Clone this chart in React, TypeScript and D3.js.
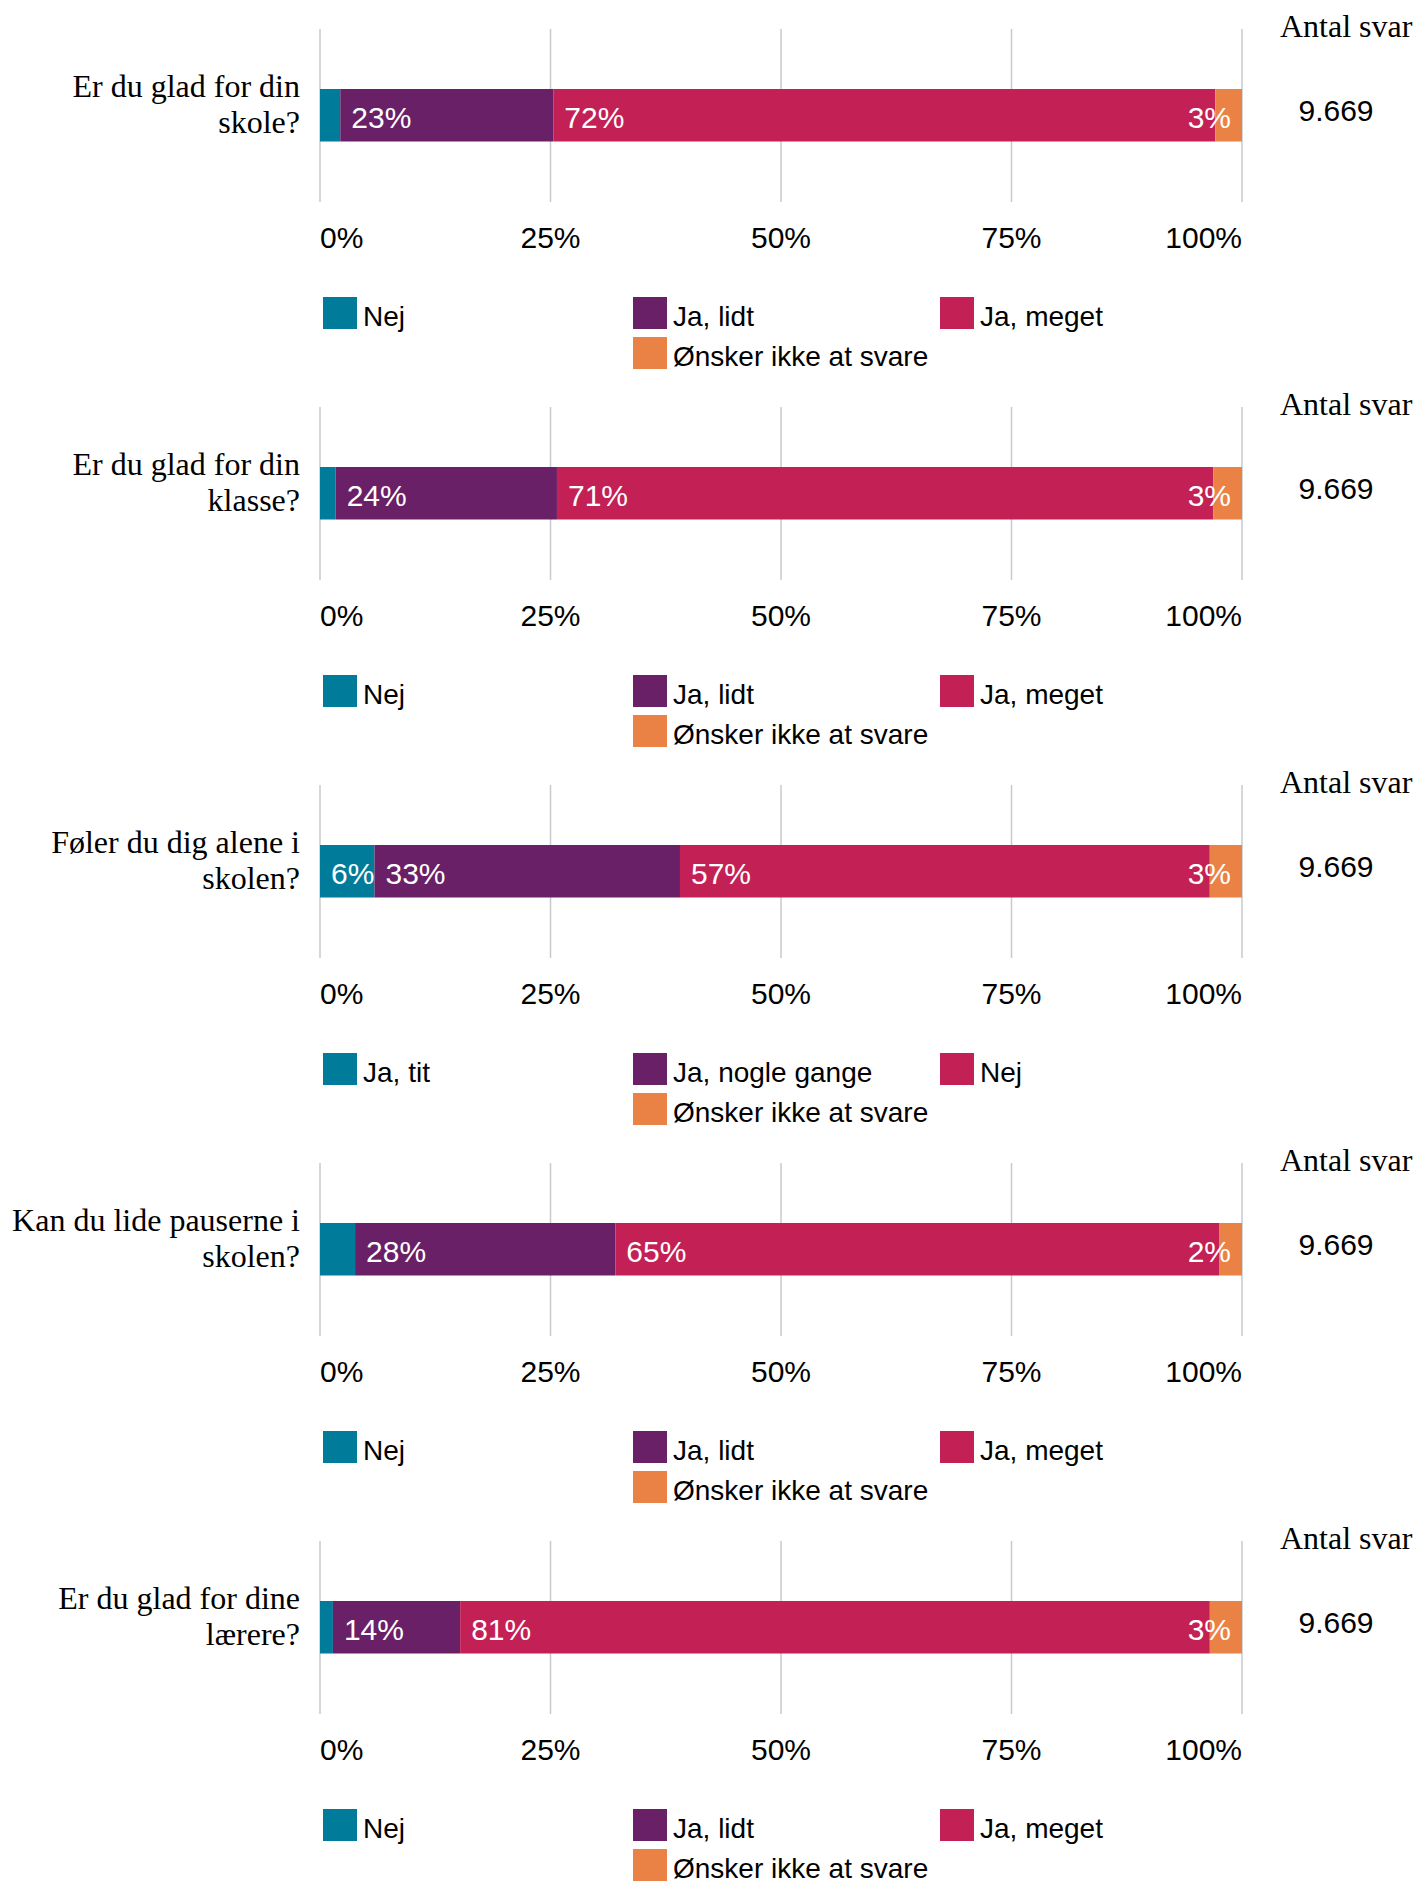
import React from "react";
import * as d3 from "d3";

const questionLines: string[][] = [
  ["Er du glad for din", "skole?"],
  ["Er du glad for din", "klasse?"],
  ["Føler du dig alene i", "skolen?"],
  ["Kan du lide pauserne i", "skolen?"],
  ["Er du glad for dine", "lærere?"],
];

const catsA = ["Nej", "Ja, lidt", "Ja, meget", "Ønsker ikke at svare"];
const catsB = ["Ja, tit", "Ja, nogle gange", "Nej", "Ønsker ikke at svare"];
const questionCats = [catsA, catsA, catsB, catsA, catsA];

const values1 = [2.2, 23.1, 71.8, 2.9];
const values2 = [1.7, 24.0, 71.2, 3.1];
const values3 = [5.9, 33.1, 57.4, 3.49];
const values4 = [3.8, 28.2, 65.4, 2.49];
const values5 = [1.4, 13.8, 81.3, 3.49];
const questionValues = [values1, values2, values3, values4, values5];

const answerCounts = ["9.669", "9.669", "9.669", "9.669", "9.669"];
const tickValues = [0, 25, 50, 75, 100];
const tickLabels = ["0%", "25%", "50%", "75%", "100%"];

const colors = ["#017b9a", "#692066", "#c32056", "#ea8245"];

const W = 1415;
const H = 1881;
const panelH = 378;
const SANS = "'Liberation Sans', Arial, Helvetica, sans-serif";
const SERIF = "'Liberation Serif', 'Times New Roman', Times, serif";

function textWidth(s: string, size: number) {
  let w = 0;
  for (const c of s) w += c === "%" ? 0.889 : 0.556;
  return w * size;
}

export default function App() {
  const x = d3.scaleLinear().domain([0, 100]).range([320, 1242]);
  const barTop = 89;
  const barH = 52.5;
  const pad = 11;
  const labelSize = 30;

  return (
    <svg
      width={W}
      height={H}
      viewBox={`0 0 ${W} ${H}`}
      style={{ position: "absolute", left: 0, top: 0, background: "#fff" }}
    >
      <rect x={0} y={0} width={W} height={H} fill="#fff" />
      {questionValues.map((vals, qi) => {
        const total = d3.sum(vals);
        const norm = vals.map((v) => (v / total) * 100);
        const cum = d3.cumsum(norm);
        const starts = norm.map((v, i) => cum[i] - v);
        const barEnd = x(100);
        const cats = questionCats[qi];
        return (
          <g key={qi} transform={`translate(0,${qi * panelH})`}>
            {tickValues.map((t) => (
              <line
                key={t}
                x1={x(t)}
                x2={x(t)}
                y1={29}
                y2={202}
                stroke="#c7cacd"
                strokeWidth={1.5}
              />
            ))}
            {questionLines[qi].map((ln, li) => (
              <text
                key={li}
                x={300}
                y={97 + li * 36}
                textAnchor="end"
                fontFamily={SERIF}
                fontSize={32}
                fill="#000"
              >
                {ln}
              </text>
            ))}
            {norm.map((v, i) => (
              <rect
                key={i}
                x={x(starts[i])}
                y={barTop}
                width={x(starts[i] + v) - x(starts[i])}
                height={barH}
                fill={colors[i]}
              />
            ))}
            {vals.map((v, i) => {
              const label = `${Math.round(v)}%`;
              const tw = textWidth(label, labelSize);
              const segStart = x(starts[i]);
              const segEnd = x(starts[i] + norm[i]);
              const isLast = i === vals.length - 1;
              if (!isLast && segStart + pad + tw > segEnd) return null;
              const lx = isLast ? barEnd - pad - tw : segStart + pad;
              return (
                <text
                  key={i}
                  x={lx}
                  y={barTop + 38.5}
                  fontFamily={SANS}
                  fontSize={labelSize}
                  fill="#fff"
                >
                  {label}
                </text>
              );
            })}
            <text x={1280} y={37} fontFamily={SERIF} fontSize={32} fill="#000">
              Antal svar
            </text>
            <text
              x={1336}
              y={121}
              textAnchor="middle"
              fontFamily={SANS}
              fontSize={30}
              fill="#000"
            >
              {answerCounts[qi]}
            </text>
            {tickValues.map((t, i) => (
              <text
                key={t}
                x={x(t)}
                y={248}
                textAnchor={i === 0 ? "start" : i === tickValues.length - 1 ? "end" : "middle"}
                fontFamily={SANS}
                fontSize={30}
                fill="#000"
              >
                {tickLabels[i]}
              </text>
            ))}
            {cats.map((c, i) => {
              const col = i < 3 ? i : 1;
              const row = i < 3 ? 0 : 1;
              const sx = [323, 633, 940][col];
              const sy = 297 + row * 40;
              return (
                <g key={c}>
                  <rect x={sx} y={sy} width={34} height={32} fill={colors[i]} />
                  <text
                    x={sx + 40}
                    y={sy + 29}
                    fontFamily={SANS}
                    fontSize={28}
                    fill="#000"
                  >
                    {c}
                  </text>
                </g>
              );
            })}
          </g>
        );
      })}
    </svg>
  );
}
